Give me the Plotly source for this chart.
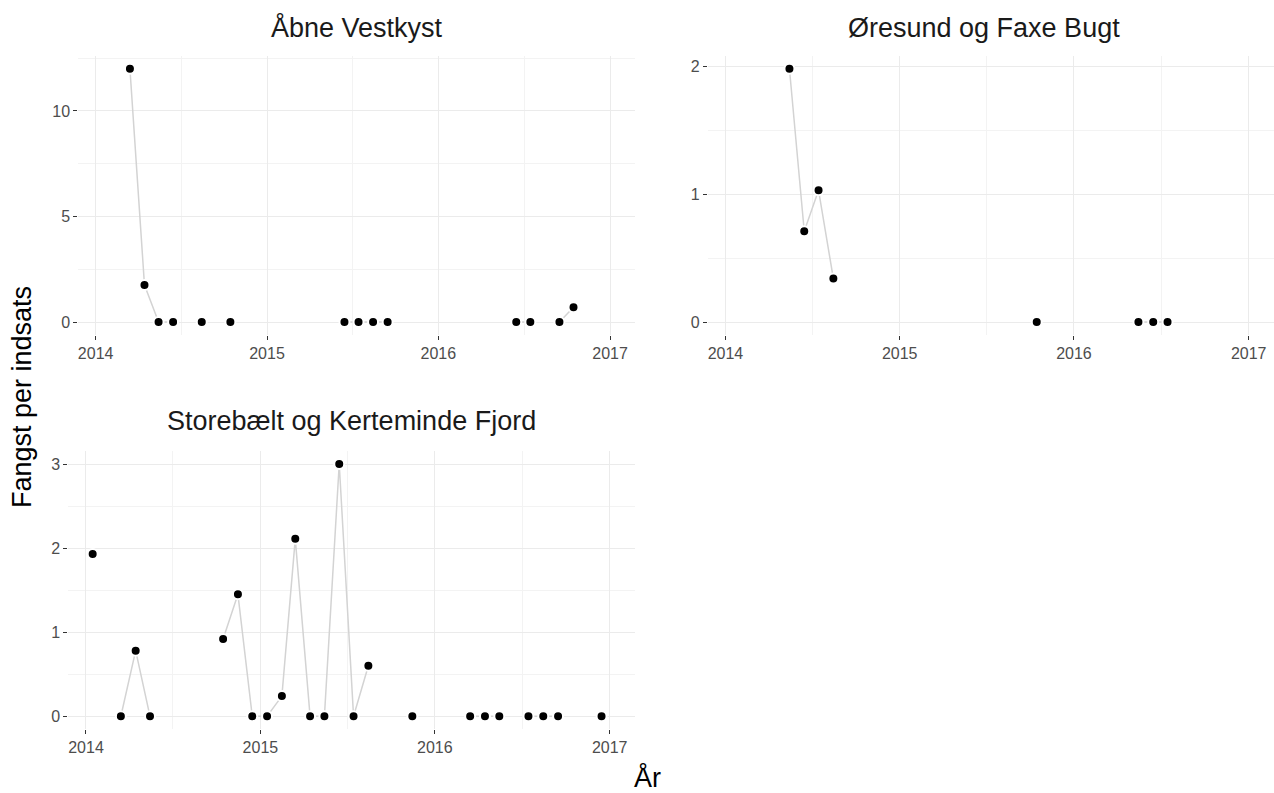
import plotly.graph_objects as go

# ---- data (monthly, None = month without observation -> line break) ----
vest_dates = ["2014-03-15", "2014-04-15", "2014-05-15", "2014-06-15", "2014-07-15",
              "2014-08-15", "2014-09-15", "2014-10-15", "2014-11-15",
              "2015-06-15", "2015-07-15", "2015-08-15", "2015-09-15", "2015-10-15",
              "2016-06-15", "2016-07-15", "2016-08-15", "2016-09-15", "2016-10-15"]
vest_vals = [12, 1.75, 0, 0, None,
             0, None, 0, None,
             0, 0, 0, 0, None,
             0, 0, None, 0, 0.7]

oresund_dates = ["2014-05-15", "2014-06-15", "2014-07-15", "2014-08-15", "2014-09-15",
                 "2015-10-15", "2015-11-15",
                 "2016-05-15", "2016-06-15", "2016-07-15"]
oresund_vals = [1.98, 0.71, 1.03, 0.34, None,
                0, None,
                0, 0, 0]

store_dates = ["2014-01-15", "2014-02-15", "2014-03-15", "2014-04-15", "2014-05-15", "2014-06-15",
               "2014-10-15", "2014-11-15", "2014-12-15", "2015-01-15", "2015-02-15", "2015-03-15",
               "2015-04-15", "2015-05-15", "2015-06-15", "2015-07-15", "2015-08-15", "2015-09-15",
               "2015-11-15", "2015-12-15",
               "2016-03-15", "2016-04-15", "2016-05-15", "2016-06-15",
               "2016-07-15", "2016-08-15", "2016-09-15", "2016-10-15", "2016-12-15"]
store_vals = [1.93, None, 0, 0.78, 0, None,
              0.92, 1.45, 0, 0, 0.24, 2.11,
              0, 0, 3.0, 0, 0.6, None,
              0, None,
              0, 0, 0, None,
              0, 0, 0, None, 0]

panel_titles = ["Åbne Vestkyst", "Øresund og Faxe Bugt", "Storebælt og Kerteminde Fjord"]
x_tickvals = ["2014-01-01", "2015-01-01", "2016-01-01", "2017-01-01"]
x_ticktext = ["2014", "2015", "2016", "2017"]

W, H = 1274, 793
FONT = "Liberation Sans, Arial, Helvetica, sans-serif"
TICK_SIZE = 16
TITLE_SIZE = 27

fig = go.Figure()

series = [(vest_dates, vest_vals, "x", "y"),
          (oresund_dates, oresund_vals, "x2", "y2"),
          (store_dates, store_vals, "x3", "y3")]
for d, v, xa, ya in series:
    fig.add_trace(go.Scatter(
        x=d, y=v, xaxis=xa, yaxis=ya, mode="lines+markers",
        connectgaps=False,
        line=dict(color="#d3d3d3", width=1.5),
        marker=dict(color="black", size=10, line=dict(color="white", width=2)),
        showlegend=False, hoverinfo="x+y"))

def px_x(a, b):
    return [a / W, min(b / W, 1.0)]

def px_y(top, bottom):
    return [1 - bottom / H, 1 - top / H]

x_common = dict(
    type="date", range=["2013-11-25", "2017-02-23"],
    tickmode="array", tickvals=x_tickvals, ticktext=x_ticktext,
    showgrid=True, gridcolor="#ebebeb", gridwidth=1.2,
    zeroline=False, showline=False,
    ticks="outside", ticklen=4, tickwidth=1, tickcolor="#333333",
    tickfont=dict(family=FONT, size=TICK_SIZE, color="#4d4d4d"),
    minor=dict(tickmode="array",
               tickvals=["2014-07-02", "2015-07-02", "2016-07-02"],
               showgrid=True, gridcolor="#f3f3f3", gridwidth=0.8, ticks=""),
    fixedrange=True,
)

def y_common(rng, dtick, minor_dtick):
    return dict(
        range=rng, tickmode="linear", tick0=0, dtick=dtick,
        showgrid=True, gridcolor="#ebebeb", gridwidth=1.2,
        zeroline=False, showline=False,
        ticks="outside", ticklen=4, tickwidth=1, tickcolor="#333333",
        tickfont=dict(family=FONT, size=TICK_SIZE, color="#4d4d4d"),
        minor=dict(tickmode="linear", tick0=0, dtick=minor_dtick,
                   showgrid=True, gridcolor="#f3f3f3", gridwidth=0.8, ticks=""),
        fixedrange=True,
    )

fig.update_layout(
    width=W, height=H, autosize=False,
    margin=dict(l=0, r=0, t=0, b=0),
    paper_bgcolor="white", plot_bgcolor="white",
    font=dict(family=FONT, color="#1a1a1a"),
    xaxis=dict(domain=px_x(78.3, 635), anchor="y", **x_common),
    yaxis=dict(domain=px_y(56.1, 334.7), anchor="x", **y_common([-0.6, 12.6], 5, 2.5)),
    xaxis2=dict(domain=px_x(707.8, 1275), anchor="y2", **x_common),
    yaxis2=dict(domain=px_y(56.1, 334.7), anchor="x2", **y_common([-0.099, 2.079], 1, 0.5)),
    xaxis3=dict(domain=px_x(68.3, 635), anchor="y3", **x_common),
    yaxis3=dict(domain=px_y(451.4, 728.9), anchor="x3", **y_common([-0.15, 3.15], 1, 0.5)),
)

ann = []
for title, (cx, cy) in zip(panel_titles, [(356.6, 28), (984, 28), (351.6, 421)]):
    ann.append(dict(text=title, x=cx / W, y=1 - cy / H, xref="paper", yref="paper",
                    xanchor="center", yanchor="middle", showarrow=False,
                    font=dict(family=FONT, size=TITLE_SIZE, color="#1a1a1a")))
ann.append(dict(text="Fangst per indsats", x=22 / W, y=1 - 397 / H, xref="paper", yref="paper",
                xanchor="center", yanchor="middle", showarrow=False, textangle=-90,
                font=dict(family=FONT, size=TITLE_SIZE, color="black")))
ann.append(dict(text="År", x=647 / W, y=1 - 777 / H, xref="paper", yref="paper",
                xanchor="center", yanchor="middle", showarrow=False,
                font=dict(family=FONT, size=TITLE_SIZE, color="black")))
fig.update_layout(annotations=ann)

fig.write_html("out.html", config={"displayModeBar": False},
               post_script="document.body.style.margin='0';document.body.style.overflow='hidden';")
